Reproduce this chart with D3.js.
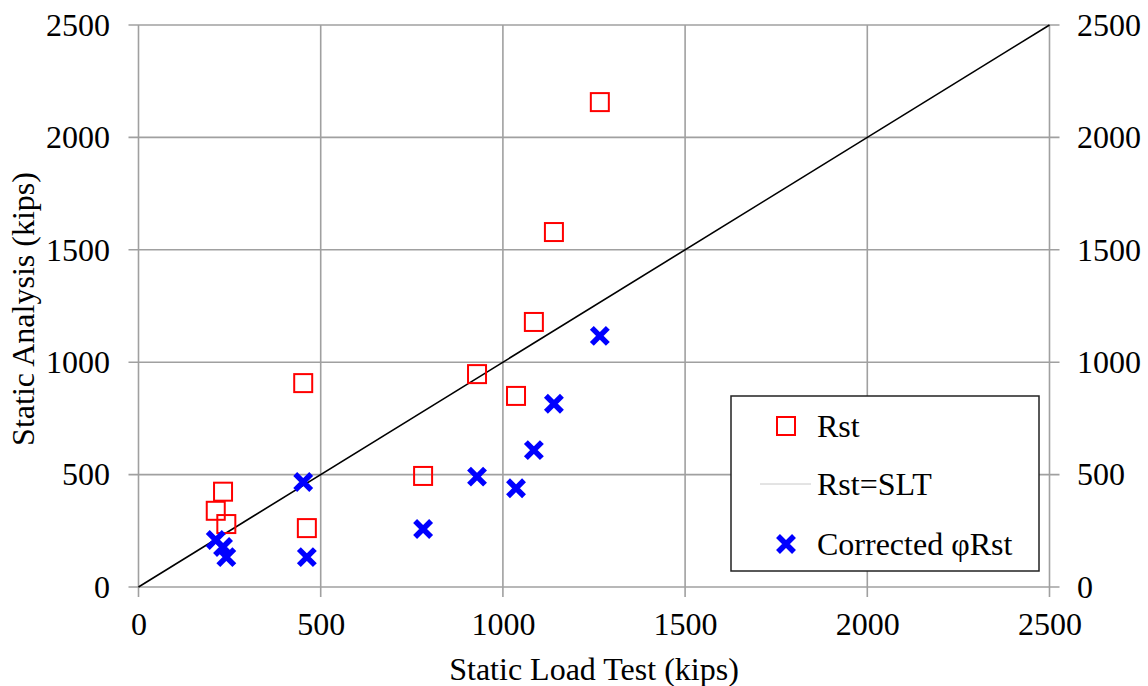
<!DOCTYPE html>
<html>
<head>
<meta charset="utf-8">
<script src="https://cdn.jsdelivr.net/npm/d3@7"></script>
<style>
  html, body { margin: 0; padding: 0; background: #fff; }
  svg { display: block; }
  text { font-family: "Liberation Serif", serif; fill: #000; }
</style>
</head>
<body>
<svg id="chart" width="1148" height="686"></svg>
<script>
// Static load test capacity (kips) for each pile
const sltKips = [1266, 1140, 1085, 929, 1036, 452, 781, 462, 212, 232, 241];
// Static analysis capacity Rst (kips)
const rstKips = [2157, 1579, 1179, 947, 850, 907, 494, 262, 339, 424, 280];
// Corrected, factored static analysis capacity φRst (kips)
const phiRstKips = [1117, 815, 609, 491, 439, 467, 258, 133, 209, 178, 133];
// Axis ticks
const tickValues = [0, 500, 1000, 1500, 2000, 2500];
// Equality line Rst = SLT
const equalityLine = [[0, 0], [2500, 2500]];
// Legend entries
const legendLabels = ["Rst", "Rst=SLT", "Corrected \u03C6Rst"];

const svg = d3.select("#chart");
const FONT = 32;
const FAMILY = '"Liberation Serif", serif';
const GRID = "#a0a0a0";

const x = d3.scaleLinear().domain([0, 2500]).range([138.5, 1049.5]);
const y = d3.scaleLinear().domain([0, 2500]).range([587, 25]);
const fmt = d3.format("d");

// Gridlines (extend 10px past the plot edges as tick marks)
const grid = svg.append("g");
grid.selectAll("line.h").data(tickValues).join("line")
  .attr("x1", x(0) - 10).attr("x2", x(2500) + 10)
  .attr("y1", d => y(d)).attr("y2", d => y(d))
  .attr("stroke", GRID).attr("stroke-width", 1.6);
grid.selectAll("line.v").data(tickValues).join("line")
  .attr("x1", d => x(d)).attr("x2", d => x(d))
  .attr("y1", y(2500)).attr("y2", y(0) + 10)
  .attr("stroke", GRID).attr("stroke-width", 1.6);

// Axes (labels only; lines come from the grid)
function styleAxis(g) {
  g.attr("font-family", FAMILY).attr("font-size", FONT);
  g.select(".domain").remove();
  g.selectAll(".tick line").remove();
  g.selectAll("text").attr("fill", "#000");
}
svg.append("g").attr("transform", `translate(${x(0)},0)`)
  .call(d3.axisLeft(y).tickValues(tickValues).tickFormat(fmt).tickSize(10).tickPadding(18.5))
  .call(styleAxis);
svg.append("g").attr("transform", `translate(${x(2500)},0)`)
  .call(d3.axisRight(y).tickValues(tickValues).tickFormat(fmt).tickSize(10).tickPadding(17.5))
  .call(styleAxis);
svg.append("g").attr("transform", `translate(0,${y(0)})`)
  .call(d3.axisBottom(x).tickValues(tickValues).tickFormat(fmt).tickSize(10).tickPadding(15))
  .call(styleAxis);

// Axis titles
svg.append("text").attr("x", (x(0) + x(2500)) / 2).attr("y", 680)
  .attr("text-anchor", "middle").attr("font-size", FONT)
  .text("Static Load Test (kips)");
svg.append("text")
  .attr("transform", `translate(34,${(y(0) + y(2500)) / 2 + 3}) rotate(-90)`)
  .attr("text-anchor", "middle").attr("font-size", FONT)
  .text("Static Analysis (kips)");

// Rst = SLT line
svg.append("path").datum(equalityLine)
  .attr("d", d3.line().x(d => x(d[0])).y(d => y(d[1])))
  .attr("fill", "none").attr("stroke", "#000").attr("stroke-width", 1.6);

const pts = sltKips.map((s, i) => ({ s, r: rstKips[i], p: phiRstKips[i] }));

// Rst markers: open red squares
const SQ = 18;
function square(sel) {
  sel.attr("width", SQ).attr("height", SQ)
    .attr("fill", "none").attr("stroke", "#ff0000").attr("stroke-width", 2);
}
svg.append("g").selectAll("rect").data(pts).join("rect")
  .attr("x", d => x(d.s) - SQ / 2).attr("y", d => y(d.r) - SQ / 2)
  .call(square);

// Corrected φRst markers: bold blue crosses
const XH = 8;
const crossPath = `M${-XH},${-XH}L${XH},${XH}M${-XH},${XH}L${XH},${-XH}`;
function cross(sel) {
  sel.attr("d", crossPath).attr("fill", "none")
    .attr("stroke", "#0000ff").attr("stroke-width", 5.5);
}
svg.append("g").selectAll("path").data(pts).join("path")
  .attr("transform", d => `translate(${x(d.s)},${y(d.p)})`)
  .call(cross);

// Legend
const lg = svg.append("g");
lg.append("rect").attr("x", 731).attr("y", 396).attr("width", 308).attr("height", 175)
  .attr("fill", "#fff").attr("stroke", "#222").attr("stroke-width", 1.5);
lg.append("rect").attr("x", 786 - SQ / 2).attr("y", 426 - SQ / 2).call(square);
lg.append("line").attr("x1", 760).attr("x2", 811).attr("y1", 484).attr("y2", 484)
  .attr("stroke", "#c8c8c8").attr("stroke-width", 1);
lg.append("path").attr("transform", "translate(786,544)").call(cross);
const legendY = [426, 484, 544];
lg.selectAll("text").data(legendLabels).join("text")
  .attr("x", 817).attr("y", (d, i) => legendY[i]).attr("dy", "0.34em")
  .attr("font-size", FONT).text(d => d);
</script>
</body>
</html>
